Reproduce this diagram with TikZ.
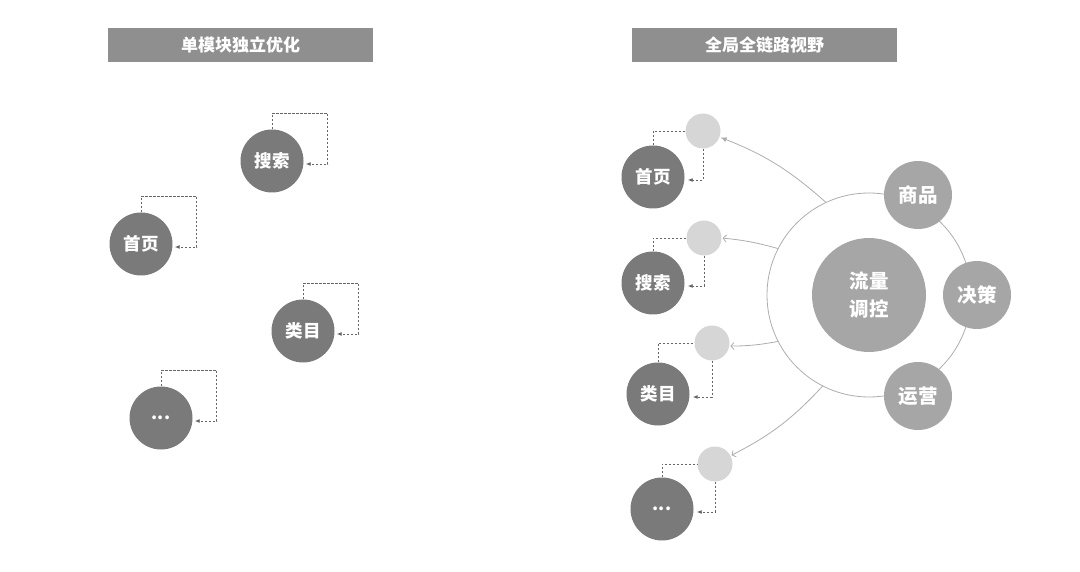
\documentclass[tikz,border=0pt]{standalone}
\usepackage{fontspec}
\newfontfamily\cjk{Noto Sans CJK SC}
\usetikzlibrary{positioning,calc,arrows.meta}

\definecolor{barGray}{HTML}{8F8F8F}
\definecolor{modGray}{HTML}{7A7A7A}
\definecolor{hubGray}{HTML}{A6A6A6}
\definecolor{relayGray}{HTML}{D6D6D6}
\definecolor{ringGray}{HTML}{ADADAD}
\definecolor{dashGray}{HTML}{666666}

\newcommand{\moreDots}{\raisebox{-4pt}{...}}

\begin{document}
\begin{tikzpicture}[x=1pt,y=-1pt,
    titlebar/.style={fill=barGray,text=white,minimum width=265pt,minimum height=34pt,inner sep=0pt,
        font=\cjk\bfseries\fontsize{17}{17}\selectfont},
    module/.style={circle,fill=modGray,text=white,minimum size=63pt,inner sep=0pt,
        font=\cjk\bfseries\fontsize{17.5}{17.5}\selectfont},
    factor/.style={circle,fill=hubGray,text=white,minimum size=68pt,inner sep=0pt,
        font=\cjk\bfseries\fontsize{19.5}{19.5}\selectfont},
    relay/.style={circle,fill=relayGray,minimum size=35pt,inner sep=0pt},
    dashline/.style={draw=dashGray,line width=0.9pt,dash pattern=on 2.5pt off 1.5pt},
    dasharrow/.style={dashline,-{Latex[length=5pt,width=4pt]}},
    flow/.style={draw=ringGray,line width=0.8pt,shorten >=1pt}]

    \useasboundingbox (0,0) rectangle (1080,572);

    % titles
    \node[titlebar] (leftTitle) at (240.5,45) {单模块独立优化};
    \node[titlebar] (rightTitle) at (764.5,45) {全局全链路视野};

    % left: every module optimises itself
    \node[module] (hp) at (141,244) {首页};
    \node[module] (ss) at (272,161) {搜索};
    \node[module] (lm) at (303,331) {类目};
    \node[module] (dd) at (161,418) {\moreDots};

    \foreach \m in {hp,ss,lm,dd}
        \draw[dasharrow] (\m.north) -- ++(0,-16) -| ($(\m.east)+(24,3)$) -- ($(\m.east)+(2,3)$);

    % right: traffic control hub
    \node[circle,draw=ringGray,line width=0.8pt,minimum size=204pt] (ring) at (869,295) {};
    \node[factor,minimum size=114pt,align=center,font=\cjk\bfseries\fontsize{19.5}{28}\selectfont] (hub) at (ring.center) {流量\\调控};
    \node[factor] (sp) at (918,195) {商品};
    \node[factor] (jc) at (977,295) {决策};
    \node[factor] (yy) at (918,396) {运营};

    % relays and modules
    \node[relay] (r1) at (703,131) {};
    \node[relay] (r2) at (704,238) {};
    \node[relay] (r3) at (712,343) {};
    \node[relay] (r4) at (715,464) {};

    \node[module] (m1) at (653,177) {首页};
    \node[module] (m2) at (653,283) {搜索};
    \node[module] (m3) at (658,394) {类目};
    \node[module] (m4) at (662,509) {\moreDots};

    \foreach \i in {1,...,4} {
        \draw[dashline] (m\i.north) |- (r\i.west);
        \draw[dasharrow] (r\i.south) |- ($(m\i.east)+(3,3)$);
    }

    \draw[flow,-{Latex[length=6pt,width=5pt]},ringGray] (ring.115) to[bend right=10] (r1.-20);
    \draw[flow,-{Straight Barb[length=3pt,width=7pt]}] (ring.153) to[bend right=5] (r2.east);
    \draw[flow,-{Straight Barb[length=3pt,width=7pt]}] (ring.207) to[bend left=5] (r3.-10);
    \draw[flow,-{Straight Barb[length=3pt,width=7pt]}] (ring.243) to[bend left=10] (r4.28);

\end{tikzpicture}
\end{document}
